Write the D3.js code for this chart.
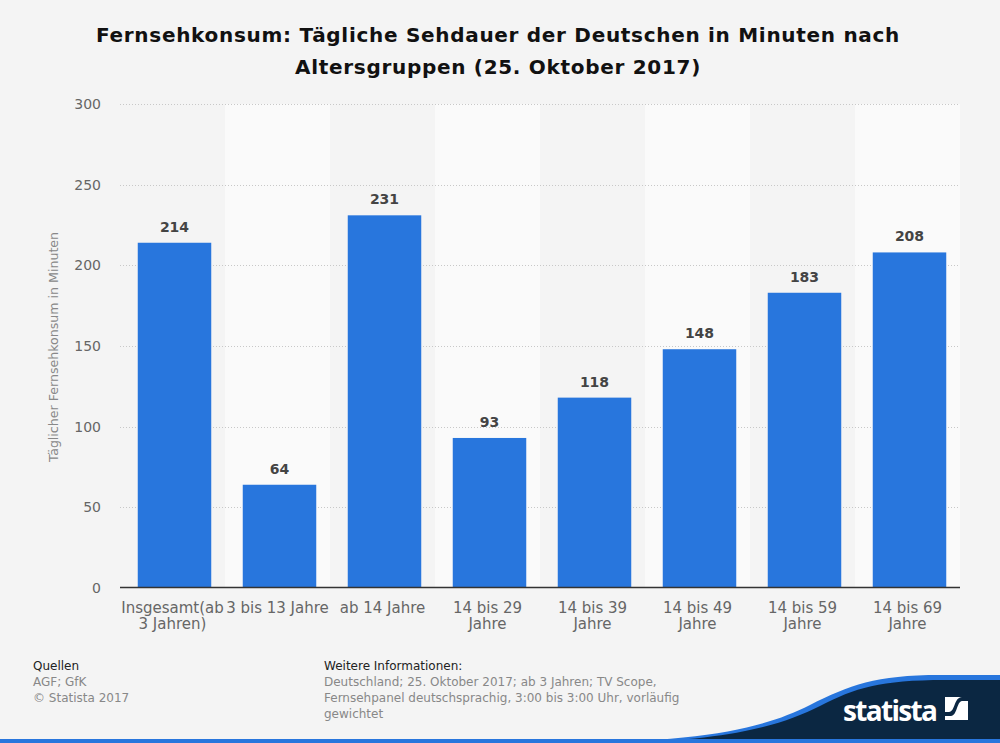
<!DOCTYPE html>
<html><head><meta charset="utf-8">
<script src="https://cdn.jsdelivr.net/npm/d3@7"></script>
<style>body{margin:0;background:#f4f4f4;}svg{display:block;font-family:"DejaVu Sans",sans-serif;}</style>
</head><body><svg id="c" width="1000" height="743"></svg>
<script>
const categories = [["Insgesamt(ab","3 Jahren)"],["3 bis 13 Jahre"],["ab 14 Jahre"],["14 bis 29","Jahre"],["14 bis 39","Jahre"],["14 bis 49","Jahre"],["14 bis 59","Jahre"],["14 bis 69","Jahre"]];
const values = [214,64,231,93,118,148,183,208];
const yTicks = [0,50,100,150,200,250,300];
const titleLines = ["Fernsehkonsum: Tägliche Sehdauer der Deutschen in Minuten nach","Altersgruppen (25. Oktober 2017)"];
const yTitle = "Täglicher Fernsehkonsum in Minuten";
const sourceLines = ["AGF; GfK","© Statista 2017"];
const infoLines = ["Deutschland; 25. Oktober 2017; ab 3 Jahren; TV Scope,","Fernsehpanel deutschsprachig, 3:00 bis 3:00 Uhr, vorläufig","gewichtet"];

const svg = d3.select("#c");
svg.append("rect").attr("width",1000).attr("height",743).attr("fill","#f4f4f4");
const L=120,R=960,T=104,B=588;
const idx = d3.range(values.length);
const x = d3.scaleBand().domain(idx).range([L+2,R+2]).paddingInner(0.3).paddingOuter(0.15);
const xb = d3.scaleBand().domain(idx).range([L,R]);
const y = d3.scaleLinear().domain([0,300]).range([B,T]);

// alternating bands
svg.append("g").selectAll("rect").data(idx).join("rect")
 .attr("x",d=>xb(d)).attr("width",xb.bandwidth()).attr("y",T).attr("height",B-T)
 .attr("fill",d=>d%2?"#fafafa":"#f4f4f4");

// grid
svg.append("g").selectAll("line").data(yTicks.filter(t=>t>0)).join("line")
 .attr("x1",L).attr("x2",R).attr("y1",d=>Math.round(y(d))+0.5).attr("y2",d=>Math.round(y(d))+0.5)
 .attr("stroke","#c8c8c8").attr("stroke-dasharray","1,2");

// y axis labels
const ya = svg.append("g").attr("transform",`translate(${L},0)`)
 .call(d3.axisLeft(y).tickValues(yTicks).tickSize(0).tickPadding(19));
ya.select(".domain").remove();
ya.selectAll("text").attr("font-size",14).attr("fill","#666").attr("font-family","DejaVu Sans");

// bars
svg.append("g").selectAll("rect").data(idx).join("rect")
 .attr("x",d=>x(d)).attr("width",x.bandwidth()).attr("y",d=>y(values[d])).attr("height",d=>B-y(values[d]))
 .attr("fill","#2876dd");

// value labels
svg.append("g").selectAll("text").data(idx).join("text")
 .attr("x",d=>x(d)+x.bandwidth()/2).attr("y",d=>y(values[d])-11)
 .attr("text-anchor","middle").attr("font-size",14).attr("font-weight","bold").attr("fill","#444")
 .text(d=>values[d]);

// x axis line
svg.append("line").attr("x1",L).attr("x2",R).attr("y1",B-0.5).attr("y2",B-0.5).attr("stroke","#333").attr("stroke-width",1.5);

// x labels
const xl = svg.append("g").selectAll("text").data(idx).join("text")
 .attr("text-anchor","middle").attr("font-size",15).attr("fill","#666");
xl.each(function(d){
  const t=d3.select(this);
  categories[d].forEach((s,i)=>t.append("tspan").attr("x",xb(d)+xb.bandwidth()/2).attr("y",613+i*16).text(s));
});

// y title
svg.append("text").attr("transform","translate(58,347) rotate(-90)").attr("text-anchor","middle")
 .attr("font-size",12.6).attr("fill","#888").text(yTitle);

// title
svg.append("g").selectAll("text").data(titleLines).join("text")
 .attr("x",498).attr("y",(d,i)=>42+i*32).attr("text-anchor","middle")
 .attr("font-size",20).attr("letter-spacing",0.7).attr("font-weight","bold").attr("fill","#111").text(d=>d);

// footer
svg.append("text").attr("x",33).attr("y",670).attr("font-size",12).attr("fill","#222").text("Quellen");
svg.append("g").selectAll("text").data(sourceLines).join("text").attr("x",33).attr("y",(d,i)=>686+i*16)
 .attr("font-size",12).attr("fill","#888").text(d=>d);
svg.append("text").attr("x",324).attr("y",670).attr("font-size",12).attr("fill","#222").text("Weitere Informationen:");
svg.append("g").selectAll("text").data(infoLines).join("text").attr("x",324).attr("y",(d,i)=>686+i*16)
 .attr("font-size",12).attr("fill","#888").text(d=>d);

// logo area
svg.append("path").attr("d","M560 743 C 700 742, 760 730, 810 705 C 850 685, 875 675, 940 675 L 1000 675 L 1000 743 Z").attr("fill","#2876dd");
svg.append("path").attr("d","M620 743 C 730 740, 780 726, 820 706 C 855 688, 880 680, 945 680 L 1000 680 L 1000 743 Z").attr("fill","#0b2742");
svg.append("rect").attr("x",0).attr("y",739).attr("width",1000).attr("height",4).attr("fill","#2876dd");
svg.append("text").attr("x",843).attr("y",721).attr("font-size",28).attr("font-weight","bold").attr("fill","#fff")
 .attr("font-family","Open Sans, DejaVu Sans").attr("textLength",95).text("statista");
const lg = svg.append("g").attr("transform","translate(945,697)");
lg.append("rect").attr("width",23).attr("height",23).attr("fill","#fff");
lg.append("path").attr("d","M0 19 L6 19 C 12 19, 12 4, 17 4 L23 4 L23 0 L17 0 C 9 0, 10 15, 4 15 L0 15 Z").attr("fill","#0b2742");
</script></body></html>
